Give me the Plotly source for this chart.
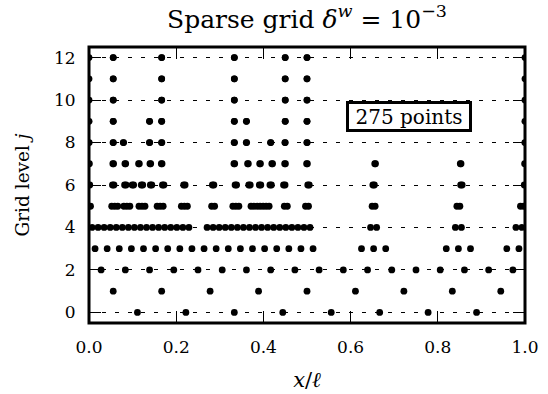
import plotly.graph_objects as go

# Odd grid indices kept on each level j; a point on level j sits at
# x = n / (9 * 2**j)  (level 0 holds the coarse nodes n / 9).
level_0 = [1, 2, 3, 4, 5, 6, 7, 8]
level_1 = [1, 3, 5, 7, 9, 11, 13, 15, 17]
level_2 = [1, 3, 5, 7, 9, 11, 13, 15, 17, 19, 21, 23, 25, 27, 29, 31, 33, 35]
level_3 = [1, 3, 5, 7, 9, 11, 13, 15, 17, 19, 21, 23, 25, 27, 29, 31, 33, 35,
           37, 45, 47, 49, 59, 61, 63, 69, 71]
level_4 = [1, 3, 5, 7, 9, 11, 13, 15, 17, 19, 21, 23, 25, 27, 29, 31, 33,
           39, 41, 43, 45, 47, 49, 51, 53, 55, 57, 59, 61, 63, 65, 67, 69, 71, 73,
           93, 95, 121, 123, 141, 143]
level_5 = [1, 15, 17, 19, 23, 25, 27, 33, 35, 37, 45, 47, 49, 61, 63, 65, 81, 83,
           95, 97, 99, 107, 109, 111, 113, 115, 117, 119, 129, 131, 143, 145,
           187, 189, 243, 245, 285, 287]
level_6 = [1, 31, 33, 47, 49, 57, 59, 69, 71, 81, 83, 97, 99, 125, 127, 163, 165,
           193, 195, 211, 213, 225, 227, 239, 241, 257, 259, 289, 291, 375, 377,
           491, 493, 575]
level_7 = [1, 63, 65, 95, 97, 131, 133, 161, 163, 191, 193, 383, 385, 419, 421,
           451, 453, 483, 485, 517, 519, 575, 577, 755, 757, 981, 983, 1151]
level_8 = [1, 127, 129, 181, 183, 319, 321, 383, 385, 767, 769, 831, 833, 959, 961,
           1035, 1037, 1151, 1153, 2303]
level_9 = [1, 255, 257, 639, 641, 767, 769, 1535, 1537, 1663, 1665, 2073, 2075,
           2303, 2305, 4607]
level_10 = [1, 511, 513, 1535, 1537, 3071, 3073, 4147, 4149, 4607, 4609, 9215]
level_11 = [1, 1023, 1025, 3071, 3073, 6143, 6145, 8293, 8295, 9215, 9217, 18431]
level_12 = [1, 2047, 2049, 6143, 6145, 12287, 12289, 16587, 16589, 18431, 18433,
            36863]

levels = [level_0, level_1, level_2, level_3, level_4, level_5, level_6,
          level_7, level_8, level_9, level_10, level_11, level_12]

x_ticks = [0.0, 0.2, 0.4, 0.6, 0.8, 1.0]
x_ticktext = ["0.0", "0.2", "0.4", "0.6", "0.8", "1.0"]
y_ticks = [0, 2, 4, 6, 8, 10, 12]

xs, ys = [], []
for j, idx in enumerate(levels):
    for n in idx:
        xs.append(n / (9 * 2 ** j))
        ys.append(j)

FONT = "DejaVu Serif"

fig = go.Figure(
    go.Scatter(
        x=xs, y=ys, mode="markers",
        marker=dict(color="black", size=6.8, line=dict(width=0)),
        showlegend=False, hoverinfo="skip",
    )
)

axis_common = dict(
    ticks="inside", ticklen=12, tickwidth=1.3, tickcolor="black",
    showline=True, linewidth=1, linecolor="black", mirror="ticks",
    zeroline=False, tickfont=dict(size=17), ticklabelstandoff=9,
    automargin=False,
)

fig.update_xaxes(
    range=[0, 1], tickvals=x_ticks, ticktext=x_ticktext, showgrid=False,
    title=dict(text="<i>x</i>/<i>ℓ</i>", font=dict(size=21), standoff=15),
    **axis_common,
)
fig.update_yaxes(
    range=[-0.5, 12.5], tickvals=y_ticks, showgrid=True, gridcolor="black",
    gridwidth=1, griddash="4px,9px",
    title=dict(text="Grid level <i>j</i>", font=dict(size=18.5), standoff=19),
    **axis_common,
)

# heavy frame centred on the plot-area border, drawn over the points
fig.add_shape(
    type="rect", xref="paper", yref="paper", x0=0, x1=1, y0=0, y1=1,
    line=dict(color="black", width=3), fillcolor="rgba(0,0,0,0)", layer="above",
)

fig.add_annotation(
    x=0.733, y=9.22, xref="x", yref="y", showarrow=False,
    text=f"{len(xs)} points", font=dict(size=20, family=FONT, color="black"),
    width=118, height=23, align="center", valign="middle",
    bgcolor="white", bordercolor="black", borderwidth=3, borderpad=1,
)

fig.update_layout(
    width=548, height=394,
    margin=dict(l=89, r=23, t=47, b=71),
    paper_bgcolor="white", plot_bgcolor="white",
    font=dict(family=FONT, size=17, color="black"),
    title=dict(
        text="Sparse grid <i>δ</i><sup><i>w</i></sup> = 10<sup>−3</sup>",
        x=0.5, xref="paper", xanchor="center",
        y=1 - 19 / 394, yref="container", yanchor="middle",
        font=dict(size=25, family=FONT),
    ),
)

fig.write_html("out.html")
